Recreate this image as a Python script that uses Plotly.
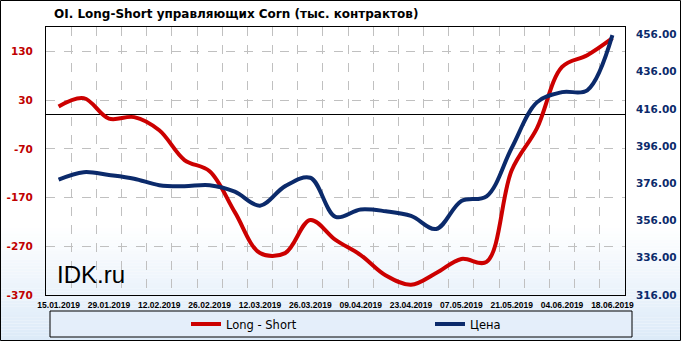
import plotly.graph_objects as go
import pandas as pd

# ---- data ----
dates = ['2019-01-15', '2019-01-22', '2019-01-29', '2019-02-05', '2019-02-12', '2019-02-19',
         '2019-02-26', '2019-03-05', '2019-03-12', '2019-03-19', '2019-03-26', '2019-04-02',
         '2019-04-09', '2019-04-16', '2019-04-23', '2019-04-30', '2019-05-07', '2019-05-14',
         '2019-05-21', '2019-05-28', '2019-06-04', '2019-06-11', '2019-06-18']
long_short = [17, 34, -8, -5, -32, -93, -116, -200, -284, -284, -216, -257,
              -288, -330, -349, -325, -296, -302, -114, -28, 98, 122, 157]
price = [378, 382, 380.5, 378.5, 375, 374.5, 375, 371.5, 364, 374.5, 379, 358,
         362, 361, 358.5, 351.5, 366.5, 369, 395, 419.5, 425, 426, 455.6]
left_ticks = [-370, -270, -170, -70, 30, 130]
right_ticks = [316, 336, 356, 376, 396, 416, 436, 456]

W, H = 681, 341
L, R, T, B = 46, 625, 27, 295
pw, ph = R - L, B - T

def px_x(p):
    return (p - L) / pw

def px_y(p):
    return (B - p) / ph

RED = '#CC0000'
BLUE = '#0B2A6B'

fig = go.Figure()
fig.add_trace(go.Scatter(x=dates, y=long_short, name='Long - Short', mode='lines',
                         legend='legend', showlegend=True,
                         line=dict(color=RED, width=4, shape='spline', smoothing=1.0)))
fig.add_trace(go.Scatter(x=dates, y=price, name='Цена', mode='lines', yaxis='y2',
                         legend='legend2', showlegend=True,
                         line=dict(color=BLUE, width=4, shape='spline', smoothing=1.0)))

dt = pd.to_datetime(dates)
minor_vals = [(d + pd.Timedelta(hours=84)).strftime('%Y-%m-%d %H:%M') for d in dt[:-1]]
x0 = (dt[0] - pd.Timedelta(hours=84)).strftime('%Y-%m-%d %H:%M')
x1 = (dt[-1] + pd.Timedelta(hours=84)).strftime('%Y-%m-%d %H:%M')

shapes = []
# background gradient (white -> light blue) at lower part
top_c = (255, 255, 255)
bot_c = (220, 234, 248)
g0, g1 = 225, 341
n = 40
for i in range(n):
    a = g0 + (g1 - g0) * i / n
    b = g0 + (g1 - g0) * (i + 1) / n
    t = (i + 0.5) / n
    c = tuple(int(round(top_c[k] + (bot_c[k] - top_c[k]) * t)) for k in range(3))
    shapes.append(dict(type='rect', xref='paper', yref='paper', layer='below',
                       x0=px_x(0), x1=px_x(W), y0=px_y(b), y1=px_y(a),
                       line=dict(width=0), fillcolor='rgb(%d,%d,%d)' % c))
# legend box
shapes.append(dict(type='rect', xref='paper', yref='paper', layer='below',
                   x0=px_x(50), x1=px_x(632), y0=px_y(337), y1=px_y(311),
                   line=dict(color='black', width=1), fillcolor='#E4EEFA'))
# outer border
shapes.append(dict(type='rect', xref='paper', yref='paper', layer='above',
                   x0=px_x(0.5), x1=px_x(W - 0.5), y0=px_y(H - 0.5), y1=px_y(0.5),
                   line=dict(color='black', width=1), fillcolor='rgba(0,0,0,0)'))

leg_common = dict(orientation='h', xanchor='left', yanchor='middle', y=px_y(324),
                  bgcolor='rgba(0,0,0,0)', borderwidth=0, visible=True,
                  font=dict(family='DejaVu Sans', size=11.5, color='black'))

fig.update_layout(
    width=W, height=H, showlegend=True,
    margin=dict(l=L, r=W - R, t=T, b=H - B, autoexpand=False),
    paper_bgcolor='white', plot_bgcolor='rgba(0,0,0,0)',
    title=dict(text='OI. Long-Short управляющих Corn (тыс. контрактов)',
               x=54 / W, xanchor='left', y=1 - 14 / H, yanchor='middle',
               font=dict(family='DejaVu Sans', size=12, color='black', weight='bold')),
    xaxis=dict(type='date', range=[x0, x1], tickmode='array', tickvals=dates[::2],
               ticktext=[d.strftime('%d.%m.%Y') for d in dt[::2]],
               showgrid=False, showline=True, linecolor='black', linewidth=1, mirror=True,
               ticks='', ticklabelstandoff=2,
               tickfont=dict(family='Liberation Sans', size=8.5, color='black', weight='bold'),
               minor=dict(tickvals=minor_vals, showgrid=True, gridcolor='#C0C0C0',
                          griddash='dash', gridwidth=1, ticks='')),
    yaxis=dict(range=[-370, 180], tickmode='array', tickvals=left_ticks,
               ticktext=[str(v) for v in left_ticks],
               showgrid=True, gridcolor='#C0C0C0', griddash='dash', gridwidth=1,
               zeroline=True, zerolinecolor='black', zerolinewidth=1,
               showline=True, linecolor='black', linewidth=1, mirror=True,
               ticks='', ticklabelstandoff=10,
               tickfont=dict(family='DejaVu Sans', size=10.5, color='#C00000', weight='bold')),
    yaxis2=dict(range=[316, 460], overlaying='y', side='right', tickmode='array',
                tickvals=right_ticks, ticktext=['%.2f' % v for v in right_ticks],
                showgrid=False, zeroline=False, ticks='', ticklabelstandoff=10,
                tickfont=dict(family='DejaVu Sans', size=10.5, color='#0B2A6B', weight='bold')),
    legend=dict(x=px_x(186), **leg_common),
    legend2=dict(x=px_x(430), **leg_common),
    shapes=shapes,
    annotations=[dict(text='IDK.ru', xref='paper', yref='paper', x=px_x(55), y=px_y(274),
                      xanchor='left', yanchor='middle', showarrow=False,
                      font=dict(family='Liberation Sans', size=24, color='black'))],
)

fig.write_html('out.html')
